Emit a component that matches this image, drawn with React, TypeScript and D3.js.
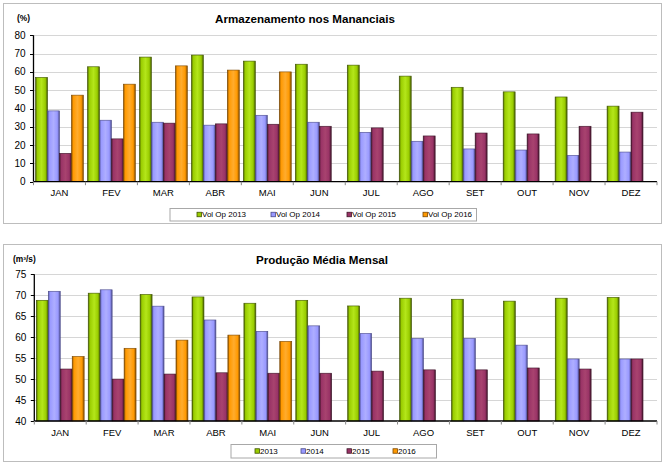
import React from "react";
import * as d3 from "d3";

const months = ["JAN", "FEV", "MAR", "ABR", "MAI", "JUN", "JUL", "AGO", "SET", "OUT", "NOV", "DEZ"];

const storage2013 = [57.0, 62.8, 68.1, 69.2, 65.9, 64.2, 63.7, 57.7, 51.6, 49.1, 46.3, 41.3];
const storage2014 = [38.7, 33.6, 32.5, 30.9, 36.3, 32.5, 27.0, 22.1, 17.9, 17.3, 14.4, 16.2];
const storage2015 = [15.5, 23.4, 32.0, 31.6, 31.4, 30.3, 29.4, 25.0, 26.6, 26.1, 30.3, 38.0];
const storage2016 = [47.3, 53.3, 63.3, 61.0, 60.0];
const storageSeriesNames = ["Vol Op 2013", "Vol Op 2014", "Vol Op 2015", "Vol Op 2016"];
const storageTicks = [0, 10, 20, 30, 40, 50, 60, 70, 80];

const prod2013 = [68.8, 70.5, 70.2, 69.6, 68.1, 68.8, 67.45, 69.3, 69.05, 68.6, 69.3, 69.5];
const prod2014 = [70.95, 71.3, 67.4, 64.1, 61.4, 62.7, 60.9, 59.7, 59.7, 58.1, 54.8, 54.8];
const prod2015 = [52.4, 50.0, 51.2, 51.5, 51.4, 51.4, 51.9, 52.2, 52.2, 52.65, 52.4, 54.8];
const prod2016 = [55.4, 57.35, 59.3, 60.5, 59.0];
const prodSeriesNames = ["2013", "2014", "2015", "2016"];
const prodTicks = [40, 45, 50, 55, 60, 65, 70, 75];

const colors = [
  { base: "#99cc00", light: "#b4e61a", dark: "#3f5400" },
  { base: "#9999ff", light: "#aeaeff", dark: "#4a4a8a" },
  { base: "#993366", light: "#a8436f", dark: "#3d1428" },
  { base: "#ff9900", light: "#ffac2e", dark: "#7a4700" },
];

function Gradients() {
  return (
    <defs>
      {colors.map((c, i) => (
        <linearGradient key={i} id={`bar${i}`} x1="0" x2="1" y1="0" y2="0">
          <stop offset="0" stopColor={c.dark} />
          <stop offset="0.14" stopColor={c.base} />
          <stop offset="0.5" stopColor={c.light} />
          <stop offset="0.82" stopColor={c.base} />
          <stop offset="1" stopColor={c.dark} />
        </linearGradient>
      ))}
    </defs>
  );
}

type ChartProps = {
  top: number;
  bottom: number;
  frame: [number, number, number, number];
  x0: number;
  x1: number;
  yTop: number;
  yBottom: number;
  domain: [number, number];
  ticks: number[];
  series: number[][];
  names: string[];
  title: string;
  titleX: number;
  titleY: number;
  unit: string;
  unitX: number;
  unitY: number;
  labelY: number;
  legendBox: [number, number, number, number];
  legendItemX: number[];
};

function Chart(p: ChartProps) {
  const x = d3.scaleBand<string>().domain(months).range([p.x0, p.x1]).paddingInner(0).paddingOuter(0);
  const xi = d3
    .scaleBand<string>()
    .domain(["0", "1", "2", "3"])
    .range([0, x.bandwidth()])
    .paddingInner(0)
    .paddingOuter(0.17);
  const y = d3.scaleLinear().domain(p.domain).range([p.yBottom, p.yTop]);
  const [fx, fy, fw, fh] = p.frame;
  const [lx, ly, lw, lh] = p.legendBox;
  const boundaries = months.map((m) => x(m) as number).concat([p.x1]);
  return (
    <g>
      <rect x={fx + 0.5} y={fy + 0.5} width={fw} height={fh} fill="#fff" stroke="#bdbdbd" strokeWidth={1} />
      <text x={p.titleX} y={p.titleY} textAnchor="middle" fontFamily="Liberation Sans, Arial, sans-serif" fontWeight="bold" fontSize={11.6} fill="#000">
        {p.title}
      </text>
      <text x={p.unitX} y={p.unitY} fontFamily="Liberation Sans, Arial, sans-serif" fontWeight="bold" fontSize={8.4} fill="#000">
        {p.unit}
      </text>
      {p.ticks.map((t) => (
        <g key={t}>
          {t !== p.domain[0] && (
            <line x1={p.x0} x2={p.x1} y1={Math.round(y(t)) + 0.5} y2={Math.round(y(t)) + 0.5} stroke="#d6d6d6" strokeWidth={1} />
          )}
          <line x1={p.x0 - 3.5} x2={p.x0} y1={Math.round(y(t)) + 0.5} y2={Math.round(y(t)) + 0.5} stroke="#000" strokeWidth={1} />
          <text x={p.x0 - 8} y={y(t)} dy="0.35em" textAnchor="end" fontFamily="Liberation Sans, Arial, sans-serif" fontSize={10} fill="#000">
            {t}
          </text>
        </g>
      ))}
      {p.series.map((vals, si) =>
        vals.map((v, mi) => {
          const bx = (x(months[mi]) as number) + (xi(String(si)) as number);
          const by = y(v);
          return (
            <rect
              key={`${si}-${mi}`}
              x={bx}
              y={by}
              width={xi.bandwidth()}
              height={y(p.domain[0]) - by}
              fill={`url(#bar${si})`}
              stroke={colors[si].dark}
              strokeWidth={0.6}
            />
          );
        })
      )}
      <line x1={p.x0} x2={p.x0} y1={p.yTop} y2={p.yBottom} stroke="#000" strokeWidth={1.3} />
      <line x1={p.x0} x2={p.x1} y1={p.yBottom} y2={p.yBottom} stroke="#000" strokeWidth={1.3} />
      {boundaries.map((b, i) => (
        <line key={i} x1={b} x2={b} y1={p.yBottom} y2={p.yBottom + 3.5} stroke="#888" strokeWidth={1} />
      ))}
      {months.map((m) => (
        <text
          key={m}
          x={(x(m) as number) + x.bandwidth() / 2}
          y={p.labelY}
          textAnchor="middle"
          fontFamily="Liberation Sans, Arial, sans-serif"
          fontSize={9.5}
          fill="#000"
        >
          {m}
        </text>
      ))}
      <rect x={lx + 0.5} y={ly + 0.5} width={lw} height={lh} fill="#fff" stroke="#a8a8a8" strokeWidth={1} />
      {p.names.map((n, i) => (
        <g key={n}>
          <rect
            x={p.legendItemX[i] + 0.5}
            y={ly + lh / 2 - 2}
            width={4.5}
            height={4.5}
            fill={colors[i].base}
            stroke={colors[i].dark}
            strokeWidth={0.8}
          />
          <text x={p.legendItemX[i] + 5.5} y={ly + lh / 2 + 3} fontFamily="Liberation Sans, Arial, sans-serif" fontSize={8} fill="#000">
            {n}
          </text>
        </g>
      ))}
    </g>
  );
}

export default function App() {
  return (
    <svg width={666} height={466} style={{ position: "absolute", left: 0, top: 0, background: "#fff" }}>
      <Gradients />
      <Chart
        top={0}
        bottom={0}
        frame={[3, 3, 658, 220]}
        x0={33.5}
        x1={657}
        yTop={35.3}
        yBottom={181.7}
        domain={[0, 80]}
        ticks={storageTicks}
        series={[storage2013, storage2014, storage2015, storage2016]}
        names={storageSeriesNames}
        title="Armazenamento nos Mananciais"
        titleX={305}
        titleY={23.3}
        unit="(%)"
        unitX={17}
        unitY={21}
        labelY={195.5}
        legendBox={[169.5, 208, 306.5, 12.5]}
        legendItemX={[196.5, 270.5, 346.5, 422.5]}
      />
      <Chart
        top={0}
        bottom={0}
        frame={[3, 244, 658, 217]}
        x0={34.3}
        x1={657}
        yTop={274.3}
        yBottom={421}
        domain={[40, 75]}
        ticks={prodTicks}
        series={[prod2013, prod2014, prod2015, prod2016]}
        names={prodSeriesNames}
        title="Produção Média Mensal"
        titleX={322}
        titleY={264}
        unit="(m³/s)"
        unitX={13}
        unitY={261.5}
        labelY={436}
        legendBox={[230.5, 444, 205.5, 13.5]}
        legendItemX={[254.5, 300.5, 346.5, 392.5]}
      />
    </svg>
  );
}
